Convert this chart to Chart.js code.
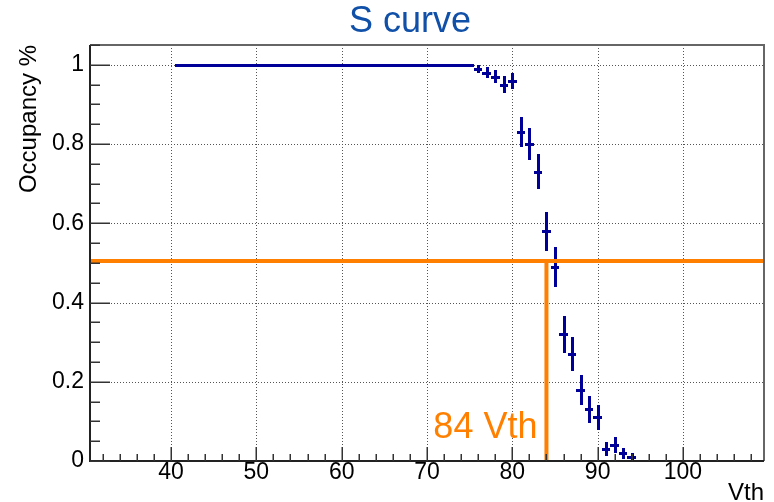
<!DOCTYPE html>
<html><head><meta charset="utf-8">
<script src="https://cdn.jsdelivr.net/npm/chart.js@4/dist/chart.umd.min.js"></script>
<style>html,body{margin:0;padding:0;background:#fff}#wrap{width:774px;height:502px}</style>
</head><body><div id="wrap"><canvas id="c" width="774" height="502"></canvas></div>
<script>
// ---- data ----
const vth = [41,42,43,44,45,46,47,48,49,50,51,52,53,54,55,56,57,58,59,60,
             61,62,63,64,65,66,67,68,69,70,71,72,73,74,75,
             76,77,78,79,80,81,82,83,84,85,86,87,88,89,90,91,92,93,94];
const occupancy = [1,1,1,1,1,1,1,1,1,1,1,1,1,1,1,1,1,1,1,1,
                   1,1,1,1,1,1,1,1,1,1,1,1,1,1,1,
                   0.99,0.98,0.97,0.95,0.96,0.83,0.80,0.73,0.58,0.49,0.32,0.27,0.18,0.13,0.11,0.03,0.04,0.02,0.01];
const occupancyErr = [0,0,0,0,0,0,0,0,0,0,0,0,0,0,0,0,0,0,0,0,
                      0,0,0,0,0,0,0,0,0,0,0,0,0,0,0,
                      0.010,0.014,0.017,0.022,0.020,0.038,0.040,0.044,0.049,0.050,0.047,0.044,0.038,0.034,0.031,0.017,0.020,0.014,0.010];
const binHalfWidth = 0.5;
const xTickValues = [40,50,60,70,80,90,100];
const yTickValues = [0,0.2,0.4,0.6,0.8,1];
const xRange = [30.5, 109.5];
const yRange = [0, 1.05];
const thresholdOccupancy = 0.505;
const thresholdVth = 84;
const chartTitle = 'S curve';
const xTitle = 'Vth';
const yTitle = 'Occupancy %';

const BLUE = '#000099';
const ORANGE = '#ff8000';
const FONT = "'Liberation Sans', Arial, sans-serif";

const rootStyle = {
  id: 'rootStyle',
  beforeDatasetsDraw(chart) {
    const {ctx, chartArea: a, scales: {x, y}} = chart;
    ctx.save();
    // dotted grid
    ctx.strokeStyle = '#555'; ctx.lineWidth = 1; ctx.setLineDash([1, 2]);
    xTickValues.forEach(v => {
      const px = Math.round(x.getPixelForValue(v)) + 0.5;
      ctx.beginPath(); ctx.moveTo(px, a.top); ctx.lineTo(px, a.bottom); ctx.stroke();
    });
    yTickValues.forEach(v => {
      if (v === 0) return;
      const py = Math.round(y.getPixelForValue(v)) + 0.5;
      ctx.beginPath(); ctx.moveTo(a.left, py); ctx.lineTo(a.right, py); ctx.stroke();
    });
    ctx.setLineDash([]);
    // error bars of the histogram
    const meta = chart.getDatasetMeta(0);
    ctx.strokeStyle = BLUE; ctx.lineWidth = 3; ctx.lineCap = 'butt';
    meta.data.forEach((pt, i) => {
      const v = vth[i], o = occupancy[i], e = occupancyErr[i];
      const py = Math.round(pt.y) + 0.5;
      const px = Math.round(pt.x) + 0.5;
      ctx.beginPath();
      ctx.moveTo(Math.round(x.getPixelForValue(v - binHalfWidth)), py);
      ctx.lineTo(Math.round(x.getPixelForValue(v + binHalfWidth)), py);
      ctx.stroke();
      if (e > 0) {
        ctx.beginPath();
        ctx.moveTo(px, Math.round(y.getPixelForValue(o - e)));
        ctx.lineTo(px, Math.round(y.getPixelForValue(o + e)));
        ctx.stroke();
      }
    });
    ctx.restore();
  },
  afterDatasetsDraw(chart) {
    const {ctx, chartArea: a, scales: {x, y}} = chart;
    ctx.save();
    // frame
    ctx.lineWidth = 2;
    ctx.strokeStyle = '#666';
    ctx.beginPath(); ctx.moveTo(a.left, a.top); ctx.lineTo(a.right, a.top); ctx.lineTo(a.right, a.bottom); ctx.stroke();
    ctx.strokeStyle = '#222';
    ctx.beginPath(); ctx.moveTo(a.left, a.top); ctx.lineTo(a.left, a.bottom); ctx.lineTo(a.right, a.bottom); ctx.stroke();
    // ticks
    ctx.lineWidth = 1.5; ctx.strokeStyle = '#333';
    for (let v = 32; v <= 108; v += 2) {
      const px = Math.round(x.getPixelForValue(v)) + 0.25;
      const len = (v % 10 === 0) ? 14 : 7;
      ctx.beginPath(); ctx.moveTo(px, a.bottom); ctx.lineTo(px, a.bottom - len); ctx.stroke();
    }
    for (let k = 0; k <= 21; k++) {
      const v = k * 0.05;
      const py = Math.round(y.getPixelForValue(v)) + 0.25;
      const len = (k % 4 === 0) ? 20 : 10;
      ctx.beginPath(); ctx.moveTo(a.left, py); ctx.lineTo(a.left + len, py); ctx.stroke();
    }
    // threshold label
    ctx.fillStyle = ORANGE;
    ctx.font = '36px ' + FONT;
    ctx.textAlign = 'right'; ctx.textBaseline = 'alphabetic';
    ctx.fillText(thresholdVth + ' Vth', x.getPixelForValue(thresholdVth) - 9, y.getPixelForValue(0) - 23);
    // chart title
    ctx.fillStyle = '#1050a8';
    ctx.font = '36px ' + FONT;
    ctx.textAlign = 'center';
    ctx.fillText(chartTitle, 410, 32);
    ctx.restore();
  }
};

new Chart(document.getElementById('c'), {
  type: 'scatter',
  data: {
    datasets: [
      { data: vth.map((v, i) => ({x: v, y: occupancy[i]})), pointRadius: 0, showLine: false, borderColor: BLUE, backgroundColor: BLUE },
      { data: [{x: xRange[0], y: thresholdOccupancy}, {x: xRange[1], y: thresholdOccupancy}], showLine: true, pointRadius: 0, borderColor: ORANGE, borderWidth: 4 },
      { data: [{x: thresholdVth, y: yRange[0]}, {x: thresholdVth, y: thresholdOccupancy}], showLine: true, pointRadius: 0, borderColor: ORANGE, borderWidth: 4 }
    ]
  },
  options: {
    responsive: false,
    devicePixelRatio: 1,
    animation: false,
    layout: { padding: { top: 45, right: 10, left: 0, bottom: 0 } },
    plugins: { legend: { display: false }, tooltip: { enabled: false }, title: { display: false } },
    scales: {
      x: {
        type: 'linear', min: xRange[0], max: xRange[1],
        grid: { display: false, drawTicks: false },
        border: { display: false },
        afterBuildTicks: s => { s.ticks = xTickValues.map(v => ({value: v})); },
        afterFit: s => { s.height = 41; },
        ticks: { color: '#000', font: { family: FONT, size: 23, lineHeight: 1 }, padding: 0, maxRotation: 0, autoSkip: false,
                 callback: v => String(v) },
        title: { display: true, text: xTitle, align: 'end', color: '#000', font: { family: FONT, size: 24, lineHeight: 1 }, padding: { top: 0, bottom: -3 } }
      },
      y: {
        type: 'linear', min: yRange[0], max: yRange[1],
        grid: { display: false, drawTicks: false },
        border: { display: false },
        afterBuildTicks: s => { s.ticks = yTickValues.map(v => ({value: v})); },
        afterFit: s => { s.width = 90; },
        ticks: { color: '#000', font: { family: FONT, size: 23 }, padding: 6, autoSkip: false,
                 callback: v => String(Math.round(v * 10) / 10) },
        title: { display: true, text: yTitle, align: 'end', color: '#000', font: { family: FONT, size: 24, lineHeight: 1 }, padding: { top: 17, bottom: 0 } }
      }
    }
  },
  plugins: [rootStyle]
});
</script>
</body></html>
